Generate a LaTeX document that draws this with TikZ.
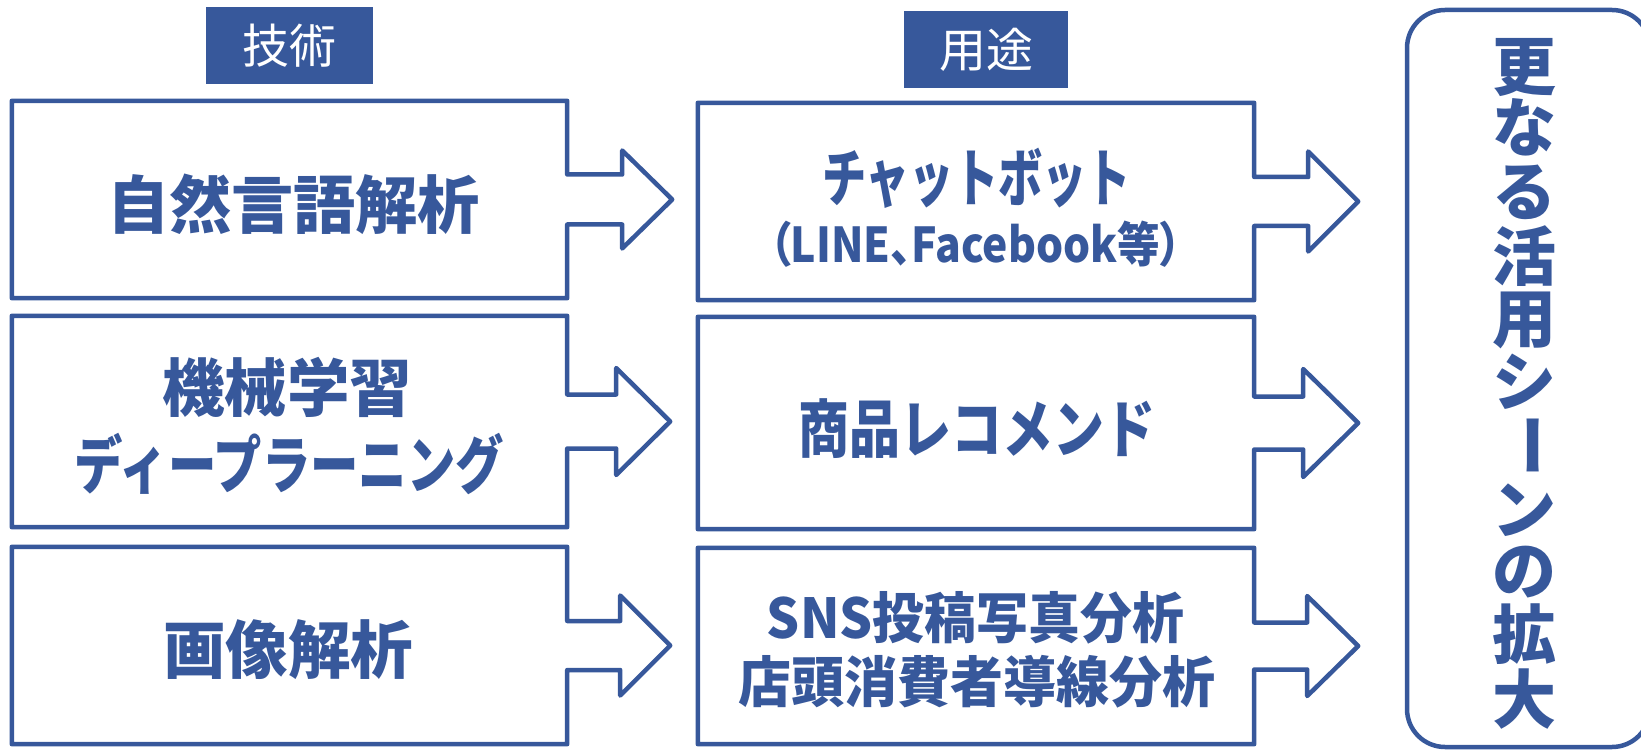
\documentclass[tikz,border=0pt]{standalone}
\usepackage{fontspec}
\usepackage{graphicx}
\newfontfamily\jp{Noto Sans CJK JP}
\newfontfamily\jpp[RawFeature=+palt]{Noto Sans CJK JP}
\usetikzlibrary{calc}
\definecolor{bl}{RGB}{55,88,155}
\newcommand\fitw[2]{\resizebox{#1pt}{\height}{#2}}
\newcommand\callout[5]{%
  \draw[outl] (#1.north west) -- (#1.north east) -- ($(#1.east)+(0,-#2)$)
    -- ($(#1.east)+(#4,-#2)$) -- ($(#1.east)+(#4,-#3)$) -- ($(#1.east)+(#4+#5,0)$)
    -- ($(#1.east)+(#4,#3)$) -- ($(#1.east)+(#4,#2)$) -- ($(#1.east)+(0,#2)$)
    -- (#1.south east) -- (#1.south west) -- cycle;}
\begin{document}
\begin{tikzpicture}[x=1pt,y=-1pt,
  outl/.style={draw=bl,line width=4.5pt,line join=round},
  boxn/.style={inner sep=0pt,draw=none},
  txt/.style={inner sep=0pt,text=bl,font=\jp\bfseries\fontsize{63pt}{70pt}\selectfont},
  txtm/.style={inner sep=0pt,text=bl,font=\jp\bfseries\fontsize{55pt}{62pt}\selectfont},
  txts/.style={inner sep=0pt,text=bl,font=\jpp\bfseries\fontsize{48pt}{54pt}\selectfont},
  vtxt/.style={inner sep=0pt,text=bl,font=\jp\bfseries\fontsize{64pt}{70pt}\selectfont},
  hdr/.style={fill=bl,inner sep=0pt,text=white,font=\jp\fontsize{47pt}{52pt}\selectfont}]
\useasboundingbox (0,0) rectangle (1641,751);
\clip (0,0) rectangle (1641,751);

% headers
\node[hdr,minimum width=167pt,minimum height=77pt] (h1) at (289.5,45.5) {技術};
\node[hdr,minimum width=164pt,minimum height=77pt] (h2) at (986,49.5) {用途};

% left column boxes
\node[boxn,minimum width=555pt,minimum height=197pt] (L1) at (289.5,199.5) {};
\node[boxn,minimum width=555pt,minimum height=211pt] (L2) at (289.5,421.5) {};
\node[boxn,minimum width=555pt,minimum height=197pt] (L3) at (289.5,645.5) {};
\callout{L1}{25}{49}{55}{50}
\callout{L2}{27}{53.5}{49}{54}
\callout{L3}{24.5}{50}{53}{50}

% middle column boxes
\node[boxn,minimum width=556pt,minimum height=197pt] (M1) at (976,201.5) {};
\node[boxn,minimum width=556pt,minimum height=212pt] (M2) at (976,423) {};
\node[boxn,minimum width=556pt,minimum height=196pt] (M3) at (976,646) {};
\callout{M1}{24.5}{50}{54}{50}
\callout{M2}{26.5}{54}{49}{55}
\callout{M3}{23.5}{50}{53}{51}

% right rounded box
\node[draw=bl,line width=4.5pt,rounded corners=38pt,inner sep=0pt,
      minimum width=243pt,minimum height=737pt] (R) at (1528.5,378.5) {};

% texts
\node[txt] (t1) at (293.5,204) {\fitw{373}{自然言語解析}};
\node[txt] (t2a) at (287,387.5) {\fitw{250}{機械学習}};
\node[txt] (t2b) at (289.5,463.5) {\fitw{429}{ディープラーニング}};
\node[txt] (t3) at (288,649.5) {\fitw{250}{画像解析}};
\node[txt] (m1a) at (976.5,178) {\fitw{309}{チャットボット}};
\node[txts] (m1b) at (975.5,244.5) {\fitw{412}{（LINE、Facebook等）}};
\node[txt] (m2) at (976.5,428.5) {\fitw{357}{商品レコメンド}};
\node[txtm] (m3a) at (975.5,618) {\fitw{417}{SNS投稿写真分析}};
\node[txtm] (m3b) at (976.5,682) {\fitw{477}{店頭消費者導線分析}};

% vertical text
\node[vtxt] (v1) at (1524,67.5) {更};
\node[vtxt] (v2) at (1524,127.5) {な};
\node[vtxt] (v3) at (1524,192.5) {る};
\node[vtxt] (v4) at (1524,256.5) {活};
\node[vtxt] (v5) at (1524,320.5) {用};
\node[vtxt] (v6) at (1524,381.5) {シ};
\node[vtxt,rotate=-90] (v7) at (1524,445) {ー};
\node[vtxt] (v8) at (1524,510) {ン};
\node[vtxt] (v9) at (1524,572) {の};
\node[vtxt] (v10) at (1524,634) {拡};
\node[vtxt] (v11) at (1524,699.5) {大};
\end{tikzpicture}
\end{document}
